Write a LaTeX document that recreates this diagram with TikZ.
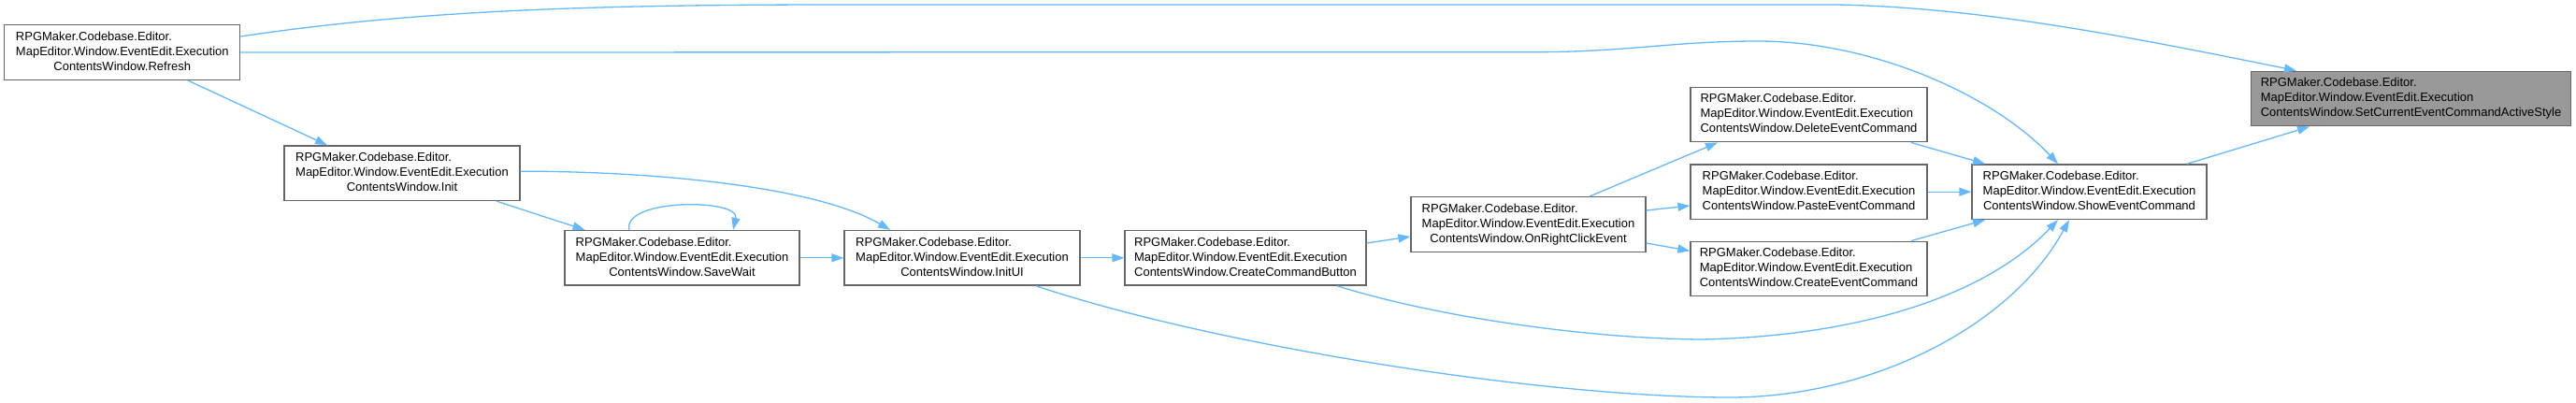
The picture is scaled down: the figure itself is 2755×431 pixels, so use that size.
\documentclass[tikz,border=0pt]{standalone}
\usepackage{fontspec}
\setmainfont{Liberation Sans}
\usetikzlibrary{arrows.meta}
\definecolor{edgeblue}{HTML}{63B8FF}
\definecolor{boxgray}{HTML}{666666}
\definecolor{focusgray}{HTML}{999999}
\newcommand{\fnlabel}[1]{\begin{tabular}{@{}l@{}}RPGMaker.Codebase.Editor.\\MapEditor.Window.EventEdit.Execution\\\multicolumn{1}{@{}c@{}}{ContentsWindow.#1}\end{tabular}}
\begin{document}
\begin{tikzpicture}[x=1pt,y=-1pt,
  fnbox/.style={draw=boxgray, line width=1.3pt, fill=white, rectangle, inner xsep=3pt, inner ysep=0pt,
    minimum height=58.6pt, font=\fontsize{13}{16}\selectfont},
  focusbox/.style={fnbox, fill=focusgray},
  calledge/.style={draw=edgeblue, line width=1.3pt, -{Triangle[length=13pt,width=9pt]}}]
\useasboundingbox (0,0) rectangle (2755,431);

\node[fnbox, minimum width=252pt] (refresh) at (130.8,56) {\fnlabel{Refresh}};
\node[fnbox, minimum width=252pt] (init) at (430,185.2) {\fnlabel{Init}};
\node[fnbox, minimum width=251pt] (savewait) at (729.5,275.8) {\fnlabel{SaveWait}};
\node[fnbox, minimum width=252pt] (initui) at (1029,275.8) {\fnlabel{InitUI}};
\node[fnbox, minimum width=258pt] (ccb) at (1332,275.8) {\fnlabel{CreateCommandButton}};
\node[fnbox, minimum width=251pt] (orc) at (1634.5,240) {\fnlabel{OnRightClickEvent}};
\node[fnbox, minimum width=253pt] (del) at (1934.5,122.5) {\fnlabel{DeleteEventCommand}};
\node[fnbox, minimum width=253pt] (paste) at (1934.5,205.2) {\fnlabel{PasteEventCommand}};
\node[fnbox, minimum width=253pt] (cev) at (1934.5,287.5) {\fnlabel{CreateEventCommand}};
\node[fnbox, minimum width=251pt] (show) at (2234.5,205.2) {\fnlabel{ShowEventCommand}};
\node[focusbox, minimum width=342pt] (setcur) at (2578.5,105.5) {\fnlabel{SetCurrentEventCommandActiveStyle}};

% Refresh -> SetCurrent
\draw[calledge] ([yshift=17pt]refresh.east) .. controls (450,10) and (650,5) .. (900,5)
  -- (1964,5) .. controls (2120,8) and (2280,40) .. ([xshift=-122.5pt]setcur.north);
% Refresh -> Show
\draw[calledge] (refresh.east) -- (1640,55.7) .. controls (1740,55.7) and (1790,44) .. (1880,44)
  .. controls (2000,44) and (2130,100) .. ([xshift=-33.5pt]show.north);
% Refresh -> Init
\draw[calledge] ([xshift=70pt]refresh.south) -- ([xshift=-80pt]init.north);
% Init -> SaveWait
\draw[calledge] ([xshift=101pt]init.south) -- ([xshift=-104pt]savewait.north);
% Init -> InitUI
\draw[calledge] ([yshift=2pt]init.east) .. controls (690,183) and (870,198) .. ([xshift=-77pt]initui.north);
% SaveWait -> SaveWait
\draw[calledge] ([xshift=-56.5pt]savewait.north) .. controls (665,212) and (792,212) .. ([xshift=54.5pt]savewait.north);
% SaveWait -> InitUI
\draw[calledge] (savewait.east) -- (initui.west);
% InitUI -> CreateCommandButton
\draw[calledge] (initui.east) -- (ccb.west);
% InitUI -> Show
\draw[calledge] ([xshift=79pt]initui.south) .. controls (1300,370) and (1650,425) .. (1850,425)
  .. controls (2000,425) and (2150,350) .. ([xshift=-21.5pt]show.south);
% CreateCommandButton -> OnRightClickEvent
\draw[calledge] ([yshift=15.8pt]ccb.east) -- ([yshift=-13pt]orc.west);
% CreateCommandButton -> Show
\draw[calledge] ([xshift=98pt]ccb.south) .. controls (1540,340) and (1700,362) .. (1819,363)
  .. controls (1980,360) and (2120,320) .. ([xshift=-33.5pt]show.south);
% OnRightClickEvent -> Delete / Paste / Create
\draw[calledge] ([xshift=65.5pt]orc.north) -- ([xshift=-97.5pt]del.south);
\draw[calledge] ([yshift=15pt]orc.east) -- ([yshift=-14.8pt]paste.west);
\draw[calledge] ([yshift=-20pt]orc.east) -- ([yshift=19.2pt]cev.west);
% Delete / Paste / Create -> Show
\draw[calledge] ([xshift=109.5pt]del.south) -- ([xshift=-111.5pt]show.north);
\draw[calledge] (paste.east) -- (show.west);
\draw[calledge] ([xshift=109.5pt]cev.north) -- ([xshift=-111.5pt]show.south);
% Show -> SetCurrent
\draw[calledge] ([xshift=104.5pt]show.north) -- ([xshift=-108.5pt]setcur.south);
\end{tikzpicture}
\end{document}
